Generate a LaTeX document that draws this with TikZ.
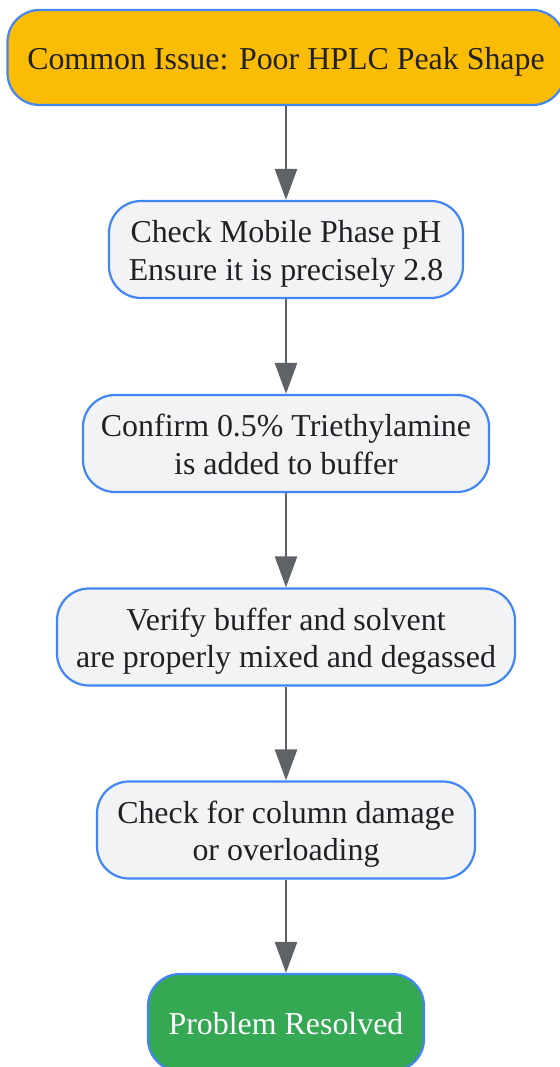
\documentclass[tikz,border=0pt]{standalone}
\usepackage{fontspec}
\setmainfont{Liberation Serif}
\usetikzlibrary{arrows.meta}
\definecolor{bord}{HTML}{4285F4}
\definecolor{orangefill}{HTML}{FBBC05}
\definecolor{grayfill}{HTML}{F1F3F4}
\definecolor{greenfill}{HTML}{34A853}
\definecolor{txt}{HTML}{202124}
\definecolor{arr}{HTML}{5F6368}
\newcommand\topst{\rule{0pt}{32pt}}
\newcommand\botst{\rule[-8pt]{0pt}{8pt}}
\tikzset{
  box/.style={draw=bord, line width=2.2pt, rounded corners=32pt, inner sep=0pt,
    align=center, text=txt, font=\fontsize{31.9}{37.7}\selectfont, minimum height=97pt},
  startbox/.style={box, fill=orangefill, minimum height=95pt},
  stepbox/.style={box, fill=grayfill},
  endbox/.style={box, fill=greenfill, text=white},
  conn/.style={draw=arr, line width=2.7pt, -{Triangle[width=22pt,length=31pt]}}
}
\begin{document}
\begin{tikzpicture}[x=1pt,y=-1pt]
\useasboundingbox (0,0) rectangle (559,1067);
\node[startbox, minimum width=557pt] (n1) at (286,57.5) {\topst Common Issue: Poor HPLC Peak Shape\botst};
\node[stepbox, minimum width=354pt] (n2) at (286,249.5) {\topst Check Mobile Phase pH\\Ensure it is precisely 2.8\botst};
\node[stepbox, minimum width=406pt] (n3) at (286,443.5) {\topst Confirm 0.5\% Triethylamine\\is added to buffer\botst};
\node[stepbox, minimum width=458pt] (n4) at (286,637) {\topst Verify buffer and solvent\\are properly mixed and degassed\botst};
\node[stepbox, minimum width=378pt] (n5) at (286,830) {\topst Check for column damage\\or overloading\botst};
\node[endbox, minimum width=276pt] (n6) at (286,1022.5) {\topst Problem Resolved\botst};
\draw[conn] (n1) -- (n2);
\draw[conn] (n2) -- (n3);
\draw[conn] (n3) -- (n4);
\draw[conn] (n4) -- (n5);
\draw[conn] (n5) -- (n6);
\end{tikzpicture}
\end{document}
